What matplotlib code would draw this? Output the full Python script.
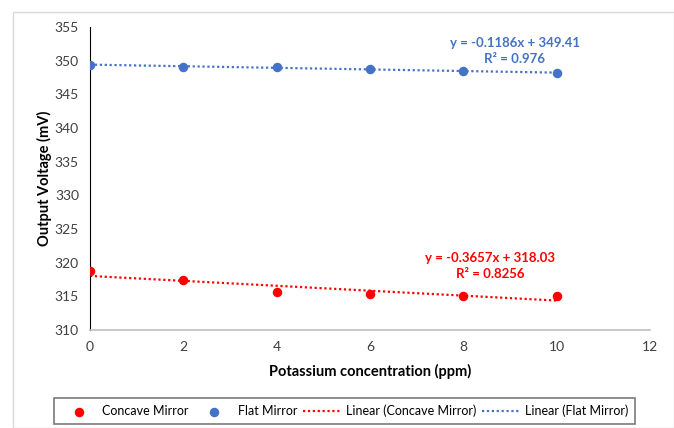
import numpy as np
import matplotlib.pyplot as plt
from matplotlib.patches import Rectangle

plt.rcParams['font.family'] = ['Lato', 'DejaVu Sans']

conc = [0, 2, 4, 6, 8, 10]
concave = [318.7, 317.4, 315.6, 315.4, 315.1, 315.0]
flat = [349.4, 349.1, 349.0, 348.8, 348.4, 348.2]

red = '#ff0000'
blue = '#4472c4'

fig = plt.figure(figsize=(6.74, 4.28), dpi=100)
# outer chart border
fig.patches.append(Rectangle((13 / 674, 0), 1 - 13 / 674, 1 - 12 / 428, transform=fig.transFigure,
                             fill=False, edgecolor='#d9d9d9', lw=1))
ax = fig.add_axes([90 / 674, 1 - 330 / 428, 560 / 674, 303 / 428])

ax.scatter(conc, concave, color=red, s=34, zorder=3, label='Concave Mirror')
ax.scatter(conc, flat, color=blue, s=34, zorder=3, label='Flat Mirror')

xs = np.array([0, 10])
for name, ys, c in [('Concave Mirror', concave, red), ('Flat Mirror', flat, blue)]:
    m, b = np.polyfit(conc, ys, 1)
    ax.plot(xs, m * xs + b, color=c, ls=(0, (1, 1.2)), lw=1.6, label=f'Linear ({name})')

ax.text(9.1, 351.4, 'y = -0.1186x + 349.41\nR² = 0.976', color=blue, ha='center', va='center',
        fontsize=9.5, fontweight='bold', linespacing=1.4)
ax.text(8.57, 319.5, 'y = -0.3657x + 318.03\nR² = 0.8256', color=red, ha='center', va='center',
        fontsize=9.5, fontweight='bold', linespacing=1.4)

ax.set_xlim(0, 12)
ax.set_ylim(310, 355)
ax.set_xticks(range(0, 13, 2))
ax.set_yticks(range(310, 356, 5))
ax.tick_params(length=0, labelsize=10, colors='#404040', pad=8)
ax.spines['top'].set_visible(False)
ax.spines['right'].set_visible(False)
ax.spines['left'].set_color('black')
ax.spines['bottom'].set_color('#bfbfbf')
ax.spines['bottom'].set_linewidth(1.2)
ax.set_xlabel('Potassium concentration (ppm)', fontsize=10.5, fontweight='bold', labelpad=8)
ax.set_ylabel('Output Voltage (mV)', fontsize=10.5, fontweight='bold', labelpad=2)

leg = fig.legend(loc='center', bbox_to_anchor=(344 / 674, 1 - 411 / 428), ncol=4, fontsize=9,
                 frameon=True, fancybox=False, edgecolor='#595959', handlelength=3.0,
                 columnspacing=0.5, handletextpad=0.4, borderpad=0.5)
leg.get_frame().set_linewidth(1.2)

fig.savefig('out.png', dpi=100)
